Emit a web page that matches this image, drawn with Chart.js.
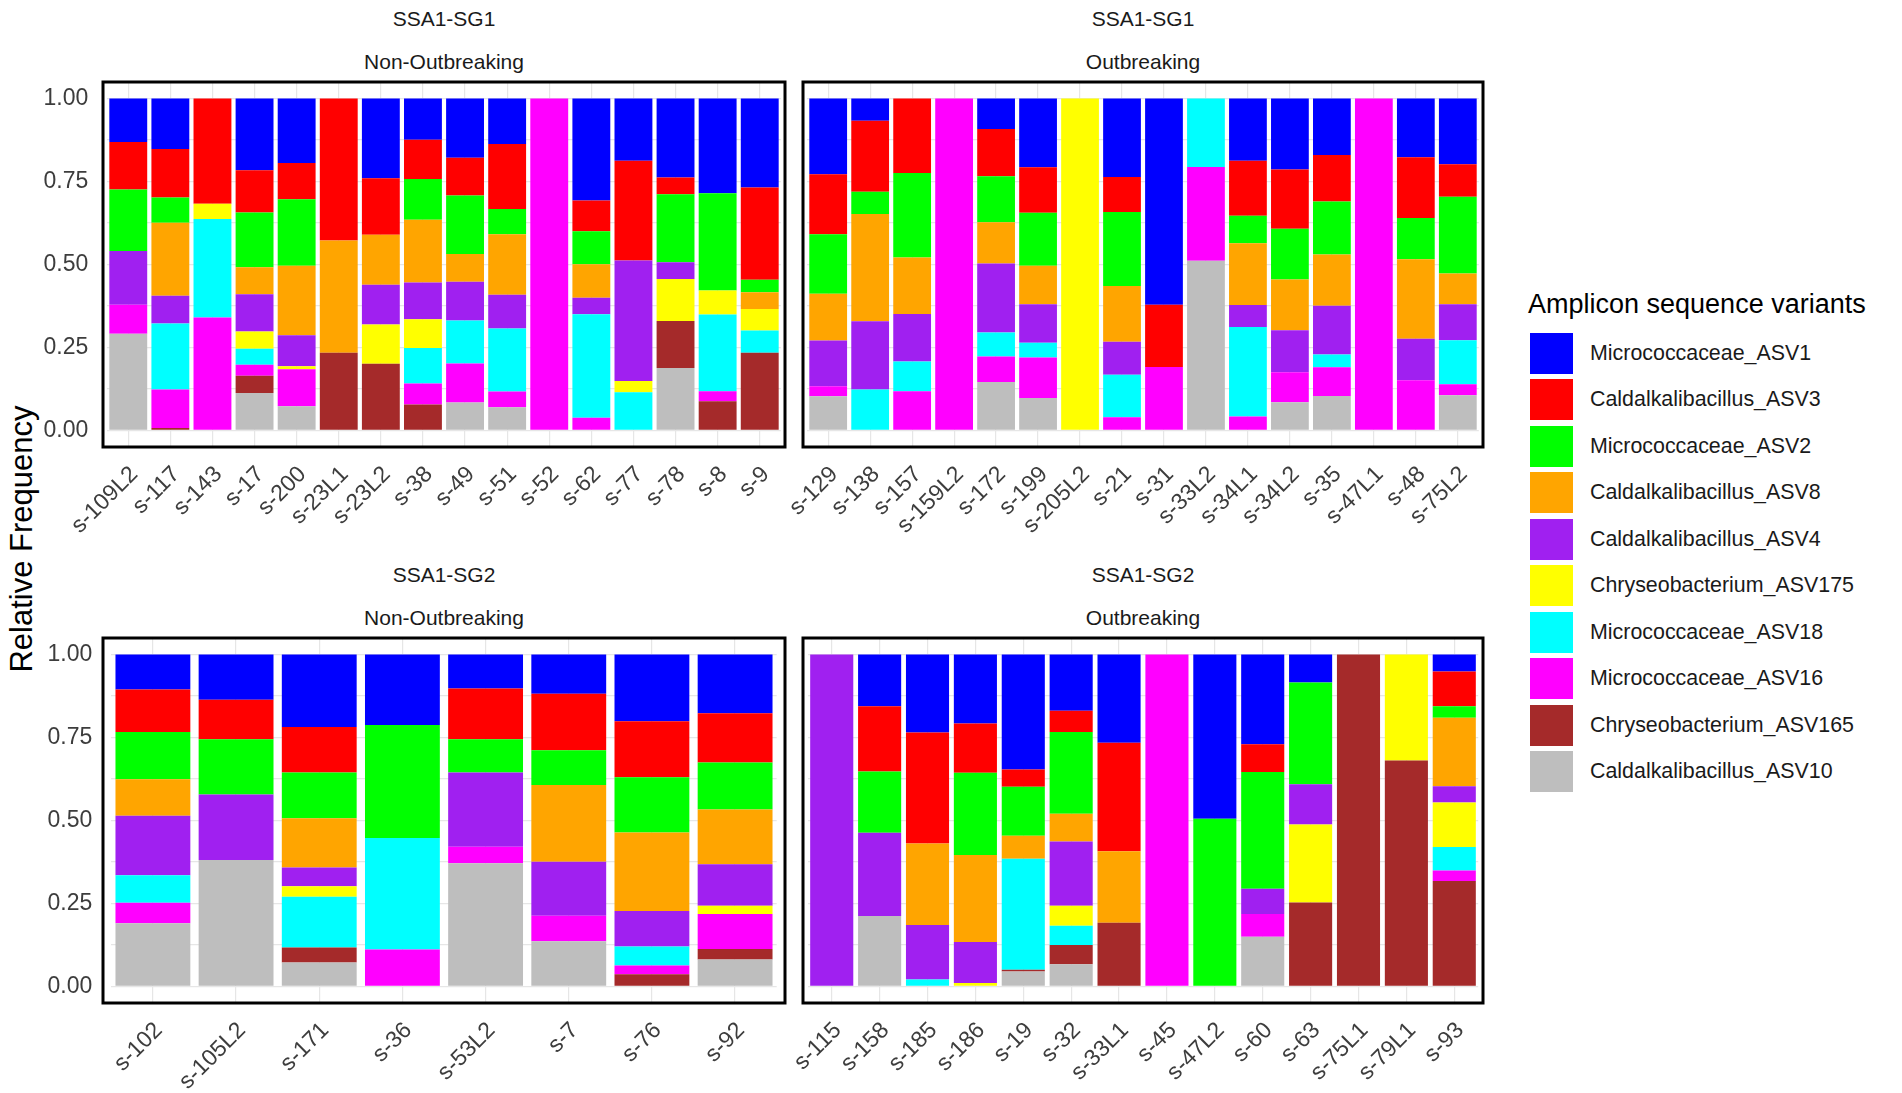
<!DOCTYPE html>
<html>
<head>
<meta charset="utf-8">
<script src="https://cdn.jsdelivr.net/npm/chart.js@4.4.1/dist/chart.umd.min.js"></script>
<style>
html,body{margin:0;padding:0;background:#ffffff;}
body{width:1902px;height:1093px;position:relative;overflow:hidden;font-family:'Liberation Sans',Arial,sans-serif;}
.cv{position:absolute;}
.t{position:absolute;line-height:1;white-space:nowrap;color:#1a1a1a;transform:translateX(-50%);font-size:21px;}
#ytitle{position:absolute;left:21px;top:539px;font-size:31px;line-height:1;white-space:nowrap;color:#000;transform:translate(-50%,-50%) rotate(-90deg);}
#legend{position:absolute;left:1528px;top:291px;}
#legend .lt{font-size:27px;line-height:1;color:#000;white-space:nowrap;margin-bottom:12px;}
#legend .row{display:flex;align-items:center;height:46.5px;margin-left:2px;}
#legend .key{width:43px;height:41px;}
#legend .lab{font-size:21.4px;line-height:1;color:#1a1a1a;margin-left:17px;white-space:nowrap;}
</style>
</head>
<body>
<div class="t" style="left:444px;top:8px;">SSA1-SG1</div>
<div class="t" style="left:444px;top:51px;">Non-Outbreaking</div>
<div class="t" style="left:1143px;top:8px;">SSA1-SG1</div>
<div class="t" style="left:1143px;top:51px;">Outbreaking</div>
<div class="t" style="left:444px;top:564px;">SSA1-SG2</div>
<div class="t" style="left:444px;top:607px;">Non-Outbreaking</div>
<div class="t" style="left:1143px;top:564px;">SSA1-SG2</div>
<div class="t" style="left:1143px;top:607px;">Outbreaking</div>
<div id="ytitle">Relative Frequency</div>

<canvas id="c1" class="cv" width="800" height="495" style="left:0px;top:70px;width:800px;height:495px;"></canvas>
<canvas id="c2" class="cv" width="780" height="495" style="left:720px;top:70px;width:780px;height:495px;"></canvas>
<canvas id="c3" class="cv" width="800" height="468" style="left:0px;top:625px;width:800px;height:468px;"></canvas>
<canvas id="c4" class="cv" width="780" height="468" style="left:720px;top:625px;width:780px;height:468px;"></canvas>

<div id="legend"><div class="lt">Amplicon sequence variants</div></div>

<script>
// ---- Series (legend order, top of stack first) ----
const asvNames = ['Micrococcaceae_ASV1','Caldalkalibacillus_ASV3','Micrococcaceae_ASV2','Caldalkalibacillus_ASV8','Caldalkalibacillus_ASV4','Chryseobacterium_ASV175','Micrococcaceae_ASV18','Micrococcaceae_ASV16','Chryseobacterium_ASV165','Caldalkalibacillus_ASV10'];
const asvColors = ['#0000FF','#FF0000','#00FF00','#FFA500','#A020F0','#FFFF00','#00FFFF','#FF00FF','#A52A2A','#BEBEBE'];
const yTicks = [0, 0.25, 0.5, 0.75, 1];
const yMinorTicks = [0.125, 0.375, 0.625, 0.875];

// ---- Panel 1: SSA1-SG1 Non-Outbreaking ----
const sg1NonSamples = ['s-109L2','s-117','s-143','s-17','s-200','s-23L1','s-23L2','s-38','s-49','s-51','s-52','s-62','s-77','s-78','s-8','s-9'];
const sg1Non_ASV1   = [.131,.152,0,.216,.194,0,.240,.124,.178,.137,0,.307,.187,.238,.285,.268];
const sg1Non_ASV3   = [.143,.146,.317,.127,.109,.428,.170,.118,.114,.196,0,.093,.301,.050,0,.278];
const sg1Non_ASV2   = [.185,.076,0,.165,.201,0,0,.123,.176,.076,0,.099,0,.205,.293,.038];
const sg1Non_ASV8   = [0,.220,0,.082,.209,.338,.151,.189,.084,.182,0,.101,0,0,0,.050];
const sg1Non_ASV4   = [.162,.084,0,.112,.094,0,.120,.111,.117,.102,0,.050,.363,.051,0,0];
const sg1Non_ASV175 = [0,0,.046,.052,.009,0,.118,.087,0,0,0,0,.034,.126,.073,.065];
const sg1Non_ASV18  = [0,.199,.297,.048,0,0,0,.107,.129,.190,0,.312,.115,0,.231,.067];
const sg1Non_ASV16  = [.088,.116,.340,.033,.111,0,0,.063,.118,.047,1,.038,0,0,.030,0];
const sg1Non_ASV165 = [0,.007,0,.052,0,.234,.201,.078,0,0,0,0,0,.142,.088,.234];
const sg1Non_ASV10  = [.291,0,0,.113,.073,0,0,0,.084,.070,0,0,0,.188,0,0];

// ---- Panel 2: SSA1-SG1 Outbreaking ----
const sg1OutSamples = ['s-129','s-138','s-157','s-159L2','s-172','s-199','s-205L2','s-21','s-31','s-33L2','s-34L1','s-34L2','s-35','s-47L1','s-48','s-75L2'];
const sg1Out_ASV1   = [.228,.067,0,0,.092,.207,0,.236,.621,0,.187,.214,.170,0,.177,.198];
const sg1Out_ASV3   = [.181,.214,.224,0,.142,.137,0,.106,.188,0,.166,.178,.140,0,.183,.098];
const sg1Out_ASV2   = [.179,.067,.255,0,.139,.160,0,.223,0,0,.083,.153,.160,0,.124,.231];
const sg1Out_ASV8   = [.141,.323,.170,0,.124,.116,0,.168,0,0,.186,.153,.154,0,.240,.093];
const sg1Out_ASV4   = [.138,.206,.143,0,.208,.116,0,.099,0,0,.066,.127,.147,0,.125,.108];
const sg1Out_ASV175 = [0,0,0,0,0,0,1,0,0,0,0,0,0,0,0,0];
const sg1Out_ASV18  = [0,.123,.090,0,.072,.044,0,.128,0,.206,.270,0,.039,0,0,.133];
const sg1Out_ASV16  = [.030,0,.118,1,.077,.122,0,.040,.191,.283,.042,.090,.086,1,.151,.033];
const sg1Out_ASV165 = [0,0,0,0,0,0,0,0,0,0,0,0,0,0,0,0];
const sg1Out_ASV10  = [.103,0,0,0,.146,.098,0,0,0,.511,0,.085,.104,0,0,.106];

// ---- Panel 3: SSA1-SG2 Non-Outbreaking ----
const sg2NonSamples = ['s-102','s-105L2','s-171','s-36','s-53L2','s-7','s-76','s-92'];
const sg2Non_ASV1   = [.105,.136,.218,.212,.102,.118,.201,.177];
const sg2Non_ASV3   = [.128,.119,.137,0,.153,.170,.169,.148];
const sg2Non_ASV2   = [.143,.167,.138,.341,.100,.105,.166,.142];
const sg2Non_ASV8   = [.110,0,.149,0,0,.231,.237,.165];
const sg2Non_ASV4   = [.179,.197,.056,0,.224,.163,.107,.125];
const sg2Non_ASV175 = [0,0,.032,0,0,0,0,.025];
const sg2Non_ASV18  = [.083,0,.153,.336,0,0,.057,0];
const sg2Non_ASV16  = [.062,0,0,.111,.050,.077,.026,.105];
const sg2Non_ASV165 = [0,0,.045,0,0,0,.037,.032];
const sg2Non_ASV10  = [.190,.381,.072,0,.371,.136,0,.081];

// ---- Panel 4: SSA1-SG2 Outbreaking ----
const sg2OutSamples = ['s-115','s-158','s-185','s-186','s-19','s-32','s-33L1','s-45','s-47L2','s-60','s-63','s-75L1','s-79L1','s-93'];
const sg2Out_ASV1   = [0,.156,.235,.208,.346,.169,.266,0,.495,.270,.084,0,0,.051];
const sg2Out_ASV3   = [0,.196,.334,.148,.052,.064,.327,0,0,.084,0,0,0,.105];
const sg2Out_ASV2   = [0,.185,0,.248,.148,.247,0,0,.505,.352,.307,0,0,.034];
const sg2Out_ASV8   = [0,0,.246,.262,.069,.083,.215,0,0,0,0,0,0,.207];
const sg2Out_ASV4   = [1,.251,.164,.124,0,.194,0,0,0,.076,.121,0,0,.049];
const sg2Out_ASV175 = [0,0,0,.010,0,.060,0,0,0,0,.235,0,.319,.134];
const sg2Out_ASV18  = [0,0,.021,0,.335,.058,0,0,0,0,0,0,0,.071];
const sg2Out_ASV16  = [0,0,0,0,0,0,0,1,0,.068,0,0,0,.031];
const sg2Out_ASV165 = [0,0,0,0,.005,.058,.192,0,0,0,.253,1,.681,.318];
const sg2Out_ASV10  = [0,.212,0,0,.045,.067,0,0,0,.150,0,0,0,0];

const FONT = "'Liberation Sans', Arial, sans-serif";

const borderPlugin = {
  id: 'panelBorder',
  afterDatasetsDraw(chart, args, opts) {
    const a = chart.chartArea, ctx = chart.ctx;
    ctx.save();
    ctx.strokeStyle = '#000';
    ctx.lineWidth = 3;
    ctx.strokeRect(a.left - opts.inset, a.top, (a.right - a.left) + 2 * opts.inset, a.bottom - a.top);
    ctx.restore();
  }
};

function makePanel(id, samples, series, box, showY) {
  const n = samples.length;
  const unit = (box.pr - box.pl) / (n + 0.2);
  const inset = 0.1 * unit;
  const caLeft = box.pl + inset - box.cl;
  const caRight = box.pr - inset - box.cl;
  const caTop = box.pt - box.ct;
  const caBottom = box.pb - box.ct;
  // bottom of stack first: reverse legend order
  const datasets = [];
  for (let i = series.length - 1; i >= 0; i--) {
    datasets.push({
      label: asvNames[i],
      data: series[i],
      backgroundColor: asvColors[i],
      borderWidth: 0,
      categoryPercentage: 0.9,
      barPercentage: 1.0
    });
  }
  const allTicks = yTicks.concat(yMinorTicks).sort((a, b) => a - b);
  new Chart(document.getElementById(id), {
    type: 'bar',
    data: { labels: samples, datasets },
    plugins: [borderPlugin],
    options: {
      responsive: false,
      animation: false,
      devicePixelRatio: 1,
      layout: { padding: { left: 0, right: box.cw - caRight, top: caTop, bottom: 0 } },
      plugins: { legend: { display: false }, tooltip: { enabled: false }, panelBorder: { inset } },
      scales: {
        x: {
          stacked: true,
          offset: true,
          grid: { offset: false, color: '#e6e6e6', lineWidth: 1.2, drawTicks: false },
          border: { display: false },
          ticks: { autoSkip: false, minRotation: 45, maxRotation: 45, padding: 14, labelOffset: 6, color: '#3d3d3d', font: { size: 23, family: FONT } },
          afterFit(s) { s.height = box.ch - caBottom; s.paddingLeft = 0; s.paddingRight = 0; }
        },
        y: {
          stacked: true,
          min: -0.05,
          max: 1.05,
          grid: { color: '#e6e6e6', lineWidth: 1.2, drawTicks: false },
          border: { display: false },
          afterBuildTicks(s) { s.ticks = allTicks.map(v => ({ value: v })); },
          ticks: {
            display: showY,
            padding: 19,
            color: '#3d3d3d',
            font: { size: 23, family: FONT },
            callback: (v) => yTicks.includes(v) ? v.toFixed(2) : ''
          },
          afterFit(s) { s.width = caLeft; s.paddingTop = 0; s.paddingBottom = 0; }
        }
      }
    }
  });
}

makePanel('c1', sg1NonSamples,
  [sg1Non_ASV1, sg1Non_ASV3, sg1Non_ASV2, sg1Non_ASV8, sg1Non_ASV4, sg1Non_ASV175, sg1Non_ASV18, sg1Non_ASV16, sg1Non_ASV165, sg1Non_ASV10],
  { cl: 0, ct: 70, cw: 800, ch: 495, pl: 103, pr: 785, pt: 82, pb: 447 }, true);
makePanel('c2', sg1OutSamples,
  [sg1Out_ASV1, sg1Out_ASV3, sg1Out_ASV2, sg1Out_ASV8, sg1Out_ASV4, sg1Out_ASV175, sg1Out_ASV18, sg1Out_ASV16, sg1Out_ASV165, sg1Out_ASV10],
  { cl: 720, ct: 70, cw: 780, ch: 495, pl: 803, pr: 1483, pt: 82, pb: 447 }, false);
makePanel('c3', sg2NonSamples,
  [sg2Non_ASV1, sg2Non_ASV3, sg2Non_ASV2, sg2Non_ASV8, sg2Non_ASV4, sg2Non_ASV175, sg2Non_ASV18, sg2Non_ASV16, sg2Non_ASV165, sg2Non_ASV10],
  { cl: 0, ct: 625, cw: 800, ch: 468, pl: 103, pr: 785, pt: 638, pb: 1003 }, true);
makePanel('c4', sg2OutSamples,
  [sg2Out_ASV1, sg2Out_ASV3, sg2Out_ASV2, sg2Out_ASV8, sg2Out_ASV4, sg2Out_ASV175, sg2Out_ASV18, sg2Out_ASV16, sg2Out_ASV165, sg2Out_ASV10],
  { cl: 720, ct: 625, cw: 780, ch: 468, pl: 803, pr: 1483, pt: 638, pb: 1003 }, false);

// ---- HTML legend ----
const legend = document.getElementById('legend');
asvNames.forEach((name, i) => {
  const row = document.createElement('div');
  row.className = 'row';
  const key = document.createElement('div');
  key.className = 'key';
  key.style.background = asvColors[i];
  const lab = document.createElement('div');
  lab.className = 'lab';
  lab.textContent = name;
  row.appendChild(key);
  row.appendChild(lab);
  legend.appendChild(row);
});
</script>
</body>
</html>
